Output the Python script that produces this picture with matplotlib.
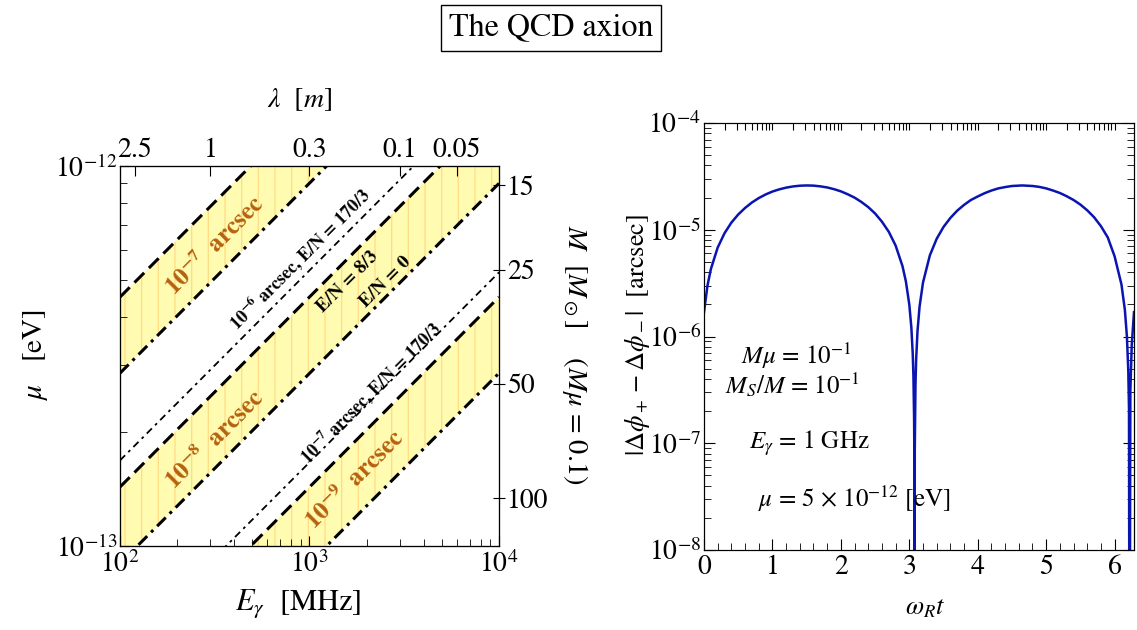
import numpy as np
import matplotlib
matplotlib.use('Agg')
import matplotlib.pyplot as plt
from matplotlib.ticker import NullFormatter, NullLocator, MultipleLocator, LogLocator

plt.rcParams['font.family'] = ['STIXGeneral', 'DejaVu Serif']
plt.rcParams['mathtext.fontset'] = 'stix'
plt.rcParams['hatch.linewidth'] = 0.9

# ---- left panel data: lines mu(E), given at the two ends of the E range ----
E_ends = [1e2, 1e4]                      # MHz
band_exp = ['-7', '-8', '-9']            # arcsec exponent of each band
band_upper = [[4.52e-13, 4.52e-12],      # E/N = 8/3 (dashed)
              [1.43e-13, 1.43e-12],
              [4.52e-14, 4.52e-13]]
band_lower = [[2.85e-13, 2.85e-12],      # E/N = 0 (dash-dot)
              [9.0e-14, 9.0e-13],
              [2.85e-14, 2.85e-13]]
thin_lines = [[1.68e-13, 1.68e-12],      # E/N = 170/3, 1e-6 arcsec
              [5.25e-14, 5.25e-13]]      # E/N = 170/3, 1e-7 arcsec

lam_ticks = [2.5, 1, 0.3, 0.1, 0.05]     # m
M_ticks = [15, 25, 50, 100]              # solar masses (M mu = 0.1)

# ---- right panel data: |dphi+ - dphi-| vs omega_R t ----
wt = [0.0, 0.05, 0.1, 0.2, 0.3, 0.4, 0.5, 0.6, 0.7, 0.8, 0.9, 1.0, 1.1, 1.2, 1.3,
      1.4, 1.5, 1.6, 1.7, 1.8, 1.9, 2.0, 2.1, 2.2, 2.3, 2.4, 2.5, 2.6, 2.7, 2.8,
      2.9, 2.95, 3.0, 3.03, 3.05, 3.06, 3.07, 3.074, 3.0766, 3.08, 3.09, 3.10,
      3.12, 3.15, 3.2, 3.3, 3.4, 3.5, 3.6, 3.7, 3.8, 3.9, 4.0, 4.1, 4.2, 4.3,
      4.4, 4.5, 4.65, 4.8, 4.9, 5.0, 5.1, 5.2, 5.3, 5.4, 5.5, 5.6, 5.7, 5.8,
      5.9, 6.0, 6.1, 6.15, 6.18, 6.2, 6.21, 6.2182, 6.23, 6.25, 6.2832]
dphi = [1.69e-6, 2.98e-6, 4.27e-6, 6.81e-6, 9.28e-6, 1.166e-5, 1.39e-5, 1.60e-5,
        1.80e-5, 1.98e-5, 2.14e-5, 2.28e-5, 2.39e-5, 2.48e-5, 2.545e-5, 2.585e-5,
        2.60e-5, 2.59e-5, 2.55e-5, 2.49e-5, 2.40e-5, 2.29e-5, 2.15e-5, 2.00e-5,
        1.82e-5, 1.63e-5, 1.42e-5, 1.19e-5, 9.57e-6, 7.11e-6, 4.57e-6, 3.28e-6,
        1.99e-6, 1.21e-6, 6.9e-7, 4.3e-7, 1.7e-7, 6.8e-8, 1e-10, 8.8e-8, 3.5e-7,
        6.1e-7, 1.13e-6, 1.91e-6, 3.20e-6, 5.75e-6, 8.23e-6, 1.063e-5, 1.29e-5,
        1.51e-5, 1.71e-5, 1.90e-5, 2.05e-5, 2.20e-5, 2.33e-5, 2.44e-5, 2.51e-5,
        2.57e-5, 2.60e-5, 2.57e-5, 2.52e-5, 2.44e-5, 2.33e-5, 2.21e-5, 2.06e-5,
        1.90e-5, 1.72e-5, 1.52e-5, 1.31e-5, 1.08e-5, 8.47e-6, 5.63e-6, 3.07e-6,
        1.77e-6, 9.9e-7, 4.7e-7, 2.1e-7, 1e-10, 3.1e-7, 8.3e-7, 1.69e-6]

W, H = 1137, 630
fig = plt.figure(figsize=(W / 100, H / 100), dpi=100)


def px(x, y):
    return x / W, 1 - y / H


yellow = '#fffbb0'
stripe = '#ffdc85'
orange = '#b5600f'
dash = (0, (4.5, 2.2))
dashdot = (0, (4.0, 1.8, 1.0, 1.8))
thin = (0, (4.0, 2.5, 1.5, 2.5))

# ================= left panel =================
ax = fig.add_axes([120 / W, 1 - 546 / H, 379 / W, 380 / H])
ax.set_xscale('log')
ax.set_yscale('log')
ax.set_xlim(1e2, 1e4)
ax.set_ylim(1e-13, 1e-12)

for up, lo in zip(band_upper, band_lower):
    ax.fill_between(E_ends, lo, up, facecolor=yellow, edgecolor=stripe,
                    hatch='|', linewidth=0, zorder=1)
    ax.plot(E_ends, up, color='black', lw=2.2, ls=dash, zorder=3)
    ax.plot(E_ends, lo, color='black', lw=2.2, ls=dashdot, zorder=3)
for tl in thin_lines:
    ax.plot(E_ends, tl, color='black', lw=1.3, ls=thin, zorder=3)

lab_kw = dict(transform=ax.transAxes, rotation=45, ha='center', va='center',
              rotation_mode='anchor')
for ex, pos in zip(band_exp, [(0.25, 0.79), (0.25, 0.28), (0.62, 0.175)]):
    ax.text(pos[0], pos[1], r'$\mathbf{10}^{\mathbf{' + ex + r'}}$  arcsec',
            fontsize=18, fontweight='bold', color=orange, **lab_kw)
ax.text(0.475, 0.755, r'$\mathbf{10^{-6}}$ arcsec, E/N = 170/3', fontsize=13,
        fontweight='bold', **lab_kw)
ax.text(0.60, 0.695, 'E/N = 8/3', fontsize=13.5, fontweight='bold', **lab_kw)
ax.text(0.70, 0.695, 'E/N = 0', fontsize=13.5, fontweight='bold', **lab_kw)
ax.text(0.66, 0.405, r'$\mathbf{10^{-7}}$ arcsec, E/N = 170/3', fontsize=13,
        fontweight='bold', **lab_kw)

ax.tick_params(which='both', direction='in', top=False, right=False,
               labelsize=20)
ax.tick_params(which='major', length=7)
ax.tick_params(which='minor', length=5)
ax.set_xticks([1e2, 1e3, 1e4])
ax.set_xticklabels([r'$10^2$', r'$10^3$', r'$10^4$'])
ax.set_yticks([1e-13, 1e-12])
ax.set_yticklabels([r'$10^{-13}$', r'$10^{-12}$'])
ax.xaxis.set_minor_formatter(NullFormatter())
ax.yaxis.set_minor_formatter(NullFormatter())
ax.tick_params(axis='y', which='major', pad=2)

axt = ax.twiny()
axt.set_xscale('log')
axt.set_xlim(ax.get_xlim())
axt.set_xticks([300.0 / l for l in lam_ticks])
axt.set_xticklabels([f'{l:g}' for l in lam_ticks])
axt.xaxis.set_minor_locator(NullLocator())
axt.tick_params(direction='in', length=7, labelsize=20, pad=2)

axr = ax.twinx()
axr.set_yscale('log')
axr.set_ylim(ax.get_ylim())
axr.set_yticks([1.335e-11 / m for m in M_ticks])
axr.set_yticklabels([str(m) for m in M_ticks])
axr.yaxis.set_minor_locator(NullLocator())
axr.tick_params(direction='inout', length=8, labelsize=20, pad=2)

fig.text(*px(300, 100), r'$\lambda$  [$m$]', fontsize=20, ha='center', va='center')
fig.text(*px(298, 603), r'$E_\gamma$  [MHz]', fontsize=22, ha='center', va='center')
fig.text(*px(36, 355), r'$\mu$   [eV]', fontsize=21, ha='center', va='center',
         rotation=90)
fig.text(*px(575, 355), r'$M$  [$M_\odot$]    ($M\mu$ = 0.1)', fontsize=20.5,
         ha='center', va='center', rotation=270)

# ================= right panel =================
bx = fig.add_axes([704 / W, 1 - 550 / H, 430 / W, 427 / H])
bx.set_yscale('log')
bx.set_xlim(0, 2 * np.pi)
bx.set_ylim(1e-8, 1e-4)
bx.plot(wt, dphi, color='#0a14b0', lw=1.8)

bx.set_xticks(range(0, 7))
bx.xaxis.set_minor_locator(MultipleLocator(0.2))
bx.yaxis.set_minor_locator(LogLocator(base=10, subs=np.arange(2, 10)))
bx.yaxis.set_minor_formatter(NullFormatter())
bx.set_yticks([1e-8, 1e-7, 1e-6, 1e-5, 1e-4])
bx.set_yticklabels([r'$10^{-8}$', r'$10^{-7}$', r'$10^{-6}$', r'$10^{-5}$', r'$10^{-4}$'])
bx.tick_params(which='both', direction='in', right=True, top=False, labelsize=20)
bx.tick_params(which='major', length=8)
bx.tick_params(which='minor', length=5)
bx.tick_params(axis='y', pad=2)

# Mathematica-like top ticks (log pattern repeated per unit)
bt = bx.twiny()
bt.set_xlim(bx.get_xlim())
top_pos = [n + np.log10(k) for n in range(0, 7) for k in range(2, 11)]
top_pos = [t for t in top_pos if t < 2 * np.pi]
bt.set_xticks(top_pos)
bt.tick_params(direction='in', length=5, labeltop=False)

bx.text(0.215, 0.455, r'$M\mu$ = $10^{-1}$', transform=bx.transAxes,
        fontsize=18, ha='center', va='center')
bx.text(0.205, 0.385, r'$M_S/M$ = $10^{-1}$', transform=bx.transAxes,
        fontsize=18, ha='center', va='center')
bx.text(0.245, 0.25, r'$E_\gamma$ = 1 GHz', transform=bx.transAxes,
        fontsize=18, ha='center', va='center')
bx.text(0.35, 0.12, r'$\mu$ = 5 $\times$ $10^{-12}$ [eV]', transform=bx.transAxes,
        fontsize=18, ha='center', va='center')

fig.text(*px(637, 335), r'$|\Delta\phi_+ - \Delta\phi_-|$  [arcsec]', fontsize=19,
         ha='center', va='center', rotation=90)
fig.text(*px(925, 608), r'$\omega_R t$', fontsize=19, ha='center', va='center')

fig.text(*px(551, 28), 'The QCD axion', fontsize=23, ha='center', va='center',
         bbox=dict(boxstyle='square,pad=0.25', fc='white', ec='black', lw=1))

fig.savefig('out.png', dpi=100)
